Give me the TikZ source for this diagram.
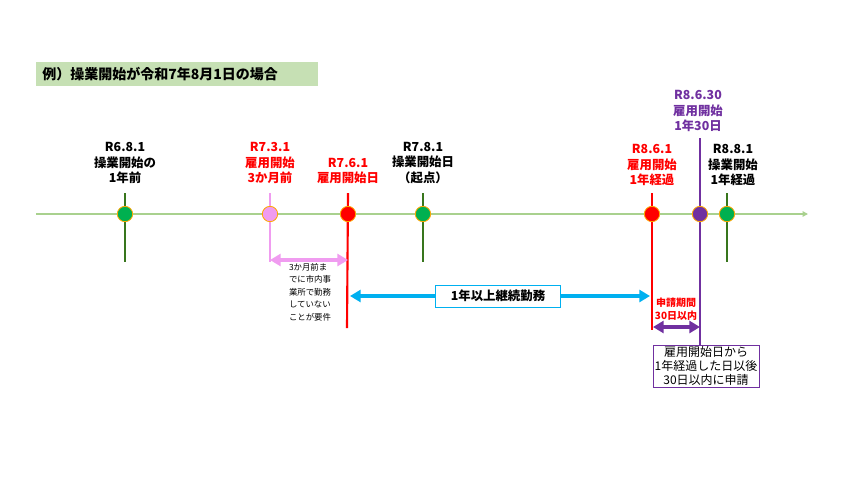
\documentclass[tikz,border=0pt]{standalone}
\usepackage{fontspec}
\setmainfont{Noto Sans CJK JP}
\usetikzlibrary{arrows.meta}
\definecolor{gdot}{HTML}{00B050}
\definecolor{gline}{HTML}{38761D}
\definecolor{pk}{HTML}{F09CF0}
\definecolor{pu}{HTML}{7030A0}
\definecolor{bl}{HTML}{00B0F0}
\definecolor{tg}{HTML}{C6E0B4}
\definecolor{tl}{HTML}{A9D18E}
\begin{document}
\begin{tikzpicture}[x=0.75pt,y=-0.75pt,
 lbl/.style={font=\fontsize{9.3}{11.3}\selectfont\bfseries,align=center,inner sep=0},
 dot/.style={circle,minimum size=11.5pt,inner sep=0,draw=orange!70!yellow,line width=0.6pt},
 gl/.style={draw=gline,line width=1.2pt},
 dbl/.style={line width=3pt,{Triangle[length=8pt,width=9pt]}-{Triangle[length=8pt,width=9pt]}}]
\useasboundingbox (0,0) rectangle (853,480);
\fill[white] (0,0) rectangle (853,480);
\node[fill=tg,minimum width=282*0.75pt,minimum height=24*0.75pt,anchor=north west,font=\fontsize{10.5}{12}\selectfont\bfseries,text width=270*0.75pt,align=left,inner xsep=4pt] (title) at (36,62) {例）操業開始が令和7年8月1日の場合};
\draw[tl,line width=1.2pt,-{Triangle[length=4pt,width=4pt]}] (36,214) -- (808,214);
% vertical lines
\draw[gl] (125,193) -- (125,262);
\draw[gl] (423,193) -- (423,262);
\draw[gl] (727,193) -- (727,262);
\draw[pk,line width=1.6pt] (270,193) -- (270,262);
\draw[red,line width=1.6pt] (348,193) -- (347,328);
\draw[red,line width=1.6pt] (652,193) -- (652,330);
\draw[pu,line width=1.6pt] (700,138) -- (700,345);
% dots
\node[dot,fill=gdot] (d1) at (125,214) {};
\node[dot,fill=pk] (d2) at (270,214) {};
\node[dot,fill=red] (d3) at (348,214) {};
\node[dot,fill=gdot] (d4) at (423,214) {};
\node[dot,fill=red] (d5) at (652,214) {};
\node[dot,fill=pu] (d6) at (700,214) {};
\node[dot,fill=gdot] (d7) at (727,214) {};
% labels
\node[lbl] (l1) at (125,163) {R6.8.1\\操業開始の\\1年前};
\node[lbl,text=red] (l2) at (270,163) {R7.3.1\\雇用開始\\3か月前};
\node[lbl,text=red] (l3) at (348,171) {R7.6.1\\雇用開始日};
\node[lbl] (l4) at (423,163) {R7.8.1\\操業開始日\\（起点）};
\node[lbl,text=red] (l5) at (652,165) {R8.6.1\\雇用開始\\1年経過};
\node[lbl,text=pu] (l6) at (698,111) {R8.6.30\\雇用開始\\1年30日};
\node[lbl] (l7) at (733,165) {R8.8.1\\操業開始\\1年経過};
% arrows
\coordinate (p1) at (270,260); \coordinate (p2) at (348,260);
\draw[dbl,pk] (p1) -- (p2);
\node[font=\fontsize{6.3}{9.3}\selectfont,align=left,inner sep=0] (note) at (310,292) {3か月前ま\\でに市内事\\業所で勤務\\していない\\ことが要件};
\coordinate (b1) at (350,296); \coordinate (b2) at (650,296);
\draw[dbl,bl] (b1) -- (b2);
\node[lbl,draw=bl,fill=white,minimum width=125*0.75pt,minimum height=22*0.75pt,line width=0.6pt] (blue) at (498,296) {1年以上継続勤務};
\coordinate (q1) at (653,327); \coordinate (q2) at (700,327);
\draw[dbl,pu] (q1) -- (q2);
\node[lbl,text=red,font=\fontsize{7.5}{10}\selectfont\bfseries] (per) at (676,309) {申請期間\\30日以内};
\node[draw=pu,fill=white,font=\fontsize{9}{10.5}\selectfont,align=center,minimum width=106*0.75pt,minimum height=42*0.75pt,inner sep=1pt] (box) at (706,366) {雇用開始日から\\1年経過した日以後\\30日以内に申請};
\end{tikzpicture}
\end{document}
